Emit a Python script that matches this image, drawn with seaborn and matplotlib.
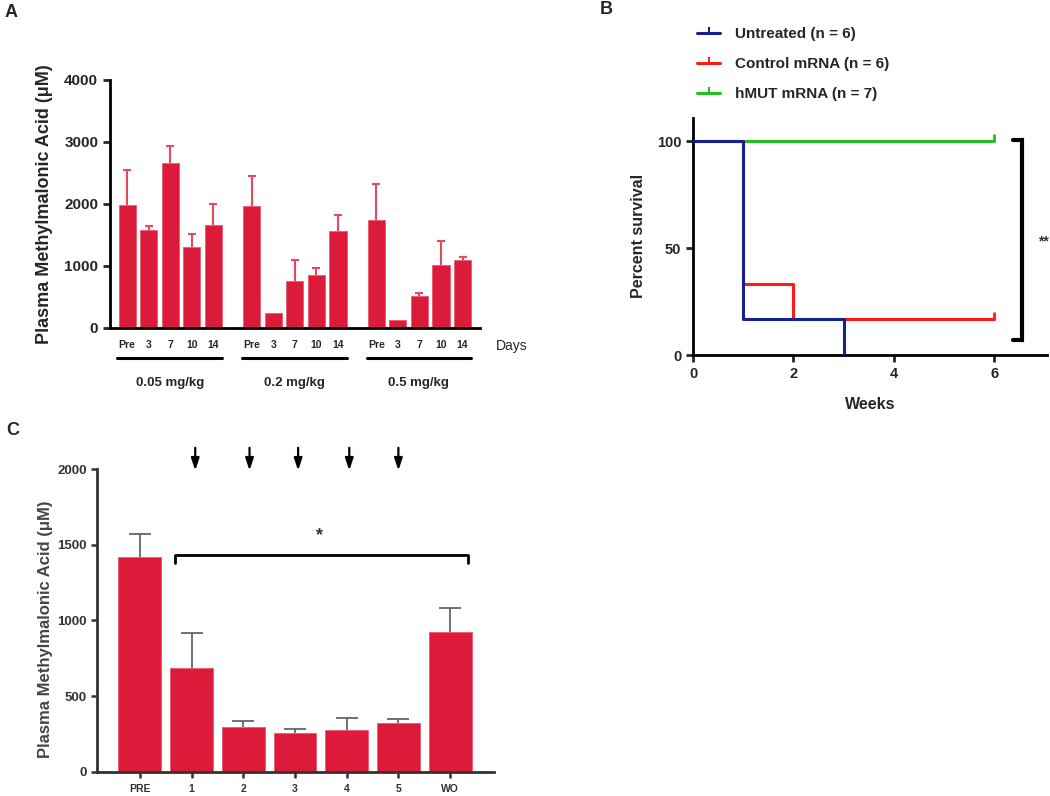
import numpy as np
import pandas as pd
import matplotlib
matplotlib.use("Agg")
import matplotlib.pyplot as plt
import matplotlib.transforms as mtransforms
from matplotlib.lines import Line2D
import seaborn as sns

# ---------------- data ----------------
# Panel A
doses = ["0.05 mg/kg", "0.2 mg/kg", "0.5 mg/kg"]
days = ["Pre", "3", "7", "10", "14"]
mma_a_005 = [1990, 1578, 2652, 1299, 1664]
mma_a_005_err = [560, 70, 285, 210, 340]
mma_a_02 = [1965, 236, 752, 848, 1557]
mma_a_02_err = [490, 0, 338, 124, 263]
mma_a_05 = [1745, 129, 515, 1015, 1095]
mma_a_05_err = [580, 0, 43, 392, 54]

# Panel B (Kaplan-Meier steps)
km_groups = ["Untreated (n = 6)", "Control mRNA (n = 6)", "hMUT mRNA (n = 7)"]
untreated_weeks = [0, 1, 3]
untreated_surv = [100, 16.7, 0]
control_weeks = [0, 1, 2, 6]
control_surv = [100, 33.3, 16.7, 16.7]
hmut_weeks = [0, 6]
hmut_surv = [100, 100]

# Panel C
c_labels = ["PRE", "1", "2", "3", "4", "5", "WO"]
mma_c = [1419, 684, 299, 257, 279, 321, 926]
mma_c_err = [152, 231, 35, 27, 80, 29, 156]

# ---------------- style ----------------
sns.set_theme(style="ticks")
plt.rcParams["font.family"] = ["Liberation Sans", "DejaVu Sans"]
plt.rcParams["font.weight"] = "bold"

BAR = "#DC1A3A"
BAR_EDGE = "#EA5A72"


def upper_errorbars(ax, x, y, err, color, lw, capsize):
    x = np.asarray(x, float)
    y = np.asarray(y, float)
    err = np.asarray(err, float)
    keep = err > 0
    eb = ax.errorbar(x[keep], y[keep], yerr=[np.zeros(keep.sum()), err[keep]],
                     fmt="none", ecolor=color, elinewidth=lw, capsize=capsize,
                     capthick=lw, zorder=0.5)
    caps = eb[1]
    if len(caps) >= 1:
        caps[0].set_visible(False)   # hide the lower cap (sits on bar top)
    return eb


fig = plt.figure(figsize=(10.5, 7.96), dpi=100)

# ---------------- Panel A ----------------
axA = fig.add_axes([0.1048, 0.588, 0.3522, 0.3117])
vals_a = [mma_a_005, mma_a_02, mma_a_05]
errs_a = [mma_a_005_err, mma_a_02_err, mma_a_05_err]
rows = []
for g, dose in enumerate(doses):
    for i, d in enumerate(days):
        rows.append({"pos": g * 5.77 + i, "day": d, "dose": dose,
                     "mma": vals_a[g][i], "err": errs_a[g][i]})
dfA = pd.DataFrame(rows)
sns.barplot(data=dfA, x="pos", y="mma", native_scale=True, errorbar=None,
            color=BAR, saturation=1, width=0.79, edgecolor=BAR_EDGE,
            linewidth=0.6, ax=axA, zorder=2)
upper_errorbars(axA, dfA["pos"], dfA["mma"], dfA["err"], "#E8475F", 1.5, 2.8)
axA.set_xlim(-0.79, 16.34)
axA.set_ylim(0, 4000)
axA.set_yticks([0, 1000, 2000, 3000, 4000])
axA.set_xticks(dfA["pos"], dfA["day"])
axA.tick_params(axis="x", length=0, pad=9, labelsize=7.5)
axA.tick_params(axis="y", length=5, width=2, labelsize=11, direction="out")
for lab in axA.get_xticklabels() + axA.get_yticklabels():
    lab.set_fontweight("bold")
axA.set_xlabel("")
axA.set_ylabel("Plasma Methylmalonic Acid (\u03bcM)", fontsize=13, fontweight="bold")
axA.yaxis.set_label_coords(-0.155, 0.5)
sns.despine(ax=axA)
for s in ["left", "bottom"]:
    axA.spines[s].set_linewidth(2)
    axA.spines[s].set_color("black")
trA = mtransforms.blended_transform_factory(axA.transData, axA.transAxes)
for g, dose in enumerate(doses):
    x0 = g * 5.77 - 0.45
    x1 = g * 5.77 + 4.4
    axA.plot([x0, x1], [-0.121, -0.121], color="black", lw=2.2, transform=trA, clip_on=False)
    axA.text((x0 + x1) / 2, -0.222, dose, transform=trA, ha="center", va="center",
             fontsize=9.5, fontweight="bold")
axA.text(17.1, -0.073, "Days", transform=trA, ha="left", va="center",
         fontsize=10, fontweight="normal")
fig.text(0.004, 0.984, "A", fontsize=13, fontweight="bold", ha="left", va="center")

# ---------------- Panel B ----------------
axB = fig.add_axes([0.66, 0.554, 0.337, 0.298])
km_colors = ["#17208C", "#FF1A1A", "#22C022"]
km_data = [(untreated_weeks, untreated_surv), (control_weeks, control_surv),
           (hmut_weeks, hmut_surv)]
for idx in [2, 1, 0]:
    w, s = km_data[idx]
    dfk = pd.DataFrame({"weeks": w, "surv": s})
    sns.lineplot(data=dfk, x="weeks", y="surv", drawstyle="steps-post",
                 estimator=None, sort=False, color=km_colors[idx], lw=2.2,
                 ax=axB, zorder=3 + (2 - idx))
# censor marks at end of follow-up
for idx in [1, 2]:
    w, s = km_data[idx]
    axB.plot([w[-1]], [s[-1]], marker=2, markersize=5, mew=2,
             color=km_colors[idx], clip_on=False, zorder=6)
axB.set_xlim(0, 7.05)
axB.set_ylim(0, 111)
axB.set_xticks([0, 2, 4, 6])
axB.set_yticks([0, 50, 100])
axB.tick_params(length=5, width=2, labelsize=10.5, direction="out")
for lab in axB.get_xticklabels() + axB.get_yticklabels():
    lab.set_fontweight("bold")
axB.set_xlabel("Weeks", fontsize=11.5, fontweight="bold", labelpad=12)
axB.set_ylabel("Percent survival", fontsize=11.5, fontweight="bold", labelpad=8)
sns.despine(ax=axB)
for s in ["left", "bottom"]:
    axB.spines[s].set_linewidth(2)
    axB.spines[s].set_color("black")
# significance bracket
axB.plot([6.38, 6.56, 6.56, 6.38], [100.5, 100.5, 7, 7], color="black", lw=3,
         clip_on=False, solid_joinstyle="miter")
axB.text(6.98, 53, "**", fontsize=10, ha="center", va="center", color="#333333")
# legend
handles = [Line2D([], [], color=c, lw=2.2, marker=2, markersize=4, mew=1.5)
           for c in km_colors]
leg = fig.legend(handles, km_groups, loc="upper left", bbox_to_anchor=(0.651, 0.983),
                 frameon=False, prop={"size": 11, "weight": "bold"}, numpoints=1,
                 handlelength=1.5, labelspacing=1.05, handletextpad=1.0)
fig.text(0.571, 0.988, "B", fontsize=13, fontweight="bold", ha="left", va="center")

# ---------------- Panel C ----------------
axC = fig.add_axes([0.0924, 0.0302, 0.3781, 0.3806])
dfC = pd.DataFrame({"pos": np.arange(len(c_labels)), "label": c_labels,
                    "mma": mma_c, "err": mma_c_err})
sns.barplot(data=dfC, x="pos", y="mma", native_scale=True, errorbar=None,
            color=BAR, saturation=1, width=0.83, edgecolor=BAR_EDGE,
            linewidth=0.6, ax=axC, zorder=2)
upper_errorbars(axC, dfC["pos"], dfC["mma"], dfC["err"], "#666666", 1.3, 8)
axC.set_xlim(-0.83, 6.85)
axC.set_ylim(0, 2000)
axC.set_yticks([0, 500, 1000, 1500, 2000])
axC.set_xticks(dfC["pos"], dfC["label"])
axC.tick_params(axis="both", length=4, width=1.8, labelsize=9.5, direction="out",
                colors="#333333")
axC.tick_params(axis="x", labelsize=7.5, pad=5)
for lab in axC.get_xticklabels() + axC.get_yticklabels():
    lab.set_fontweight("bold")
axC.set_xlabel("")
axC.set_ylabel("Plasma Methylmalonic Acid (\u03bcM)", fontsize=12, fontweight="bold",
               color="#444444")
axC.yaxis.set_label_coords(-0.112, 0.47)
sns.despine(ax=axC)
for s in ["left", "bottom"]:
    axC.spines[s].set_linewidth(2)
    axC.spines[s].set_color("#333333")
# bracket and star
axC.plot([0.68, 0.68, 6.34, 6.34], [1380, 1434, 1434, 1380], color="black", lw=2)
axC.text(3.48, 1560, "*", fontsize=13, ha="center", va="center", color="#333333")
# dosing arrows
for xa in [1.07, 2.12, 3.06, 4.05, 5.0]:
    axC.annotate("", xy=(xa, 1990), xytext=(xa, 2140),
                 arrowprops=dict(arrowstyle="-|>,head_length=0.6,head_width=0.2",
                                 color="black", lw=1.6,
                                 mutation_scale=12, shrinkA=0, shrinkB=0),
                 annotation_clip=False)
fig.text(0.006, 0.459, "C", fontsize=13, fontweight="bold", ha="left", va="center")

fig.savefig("out.png", dpi=100)
